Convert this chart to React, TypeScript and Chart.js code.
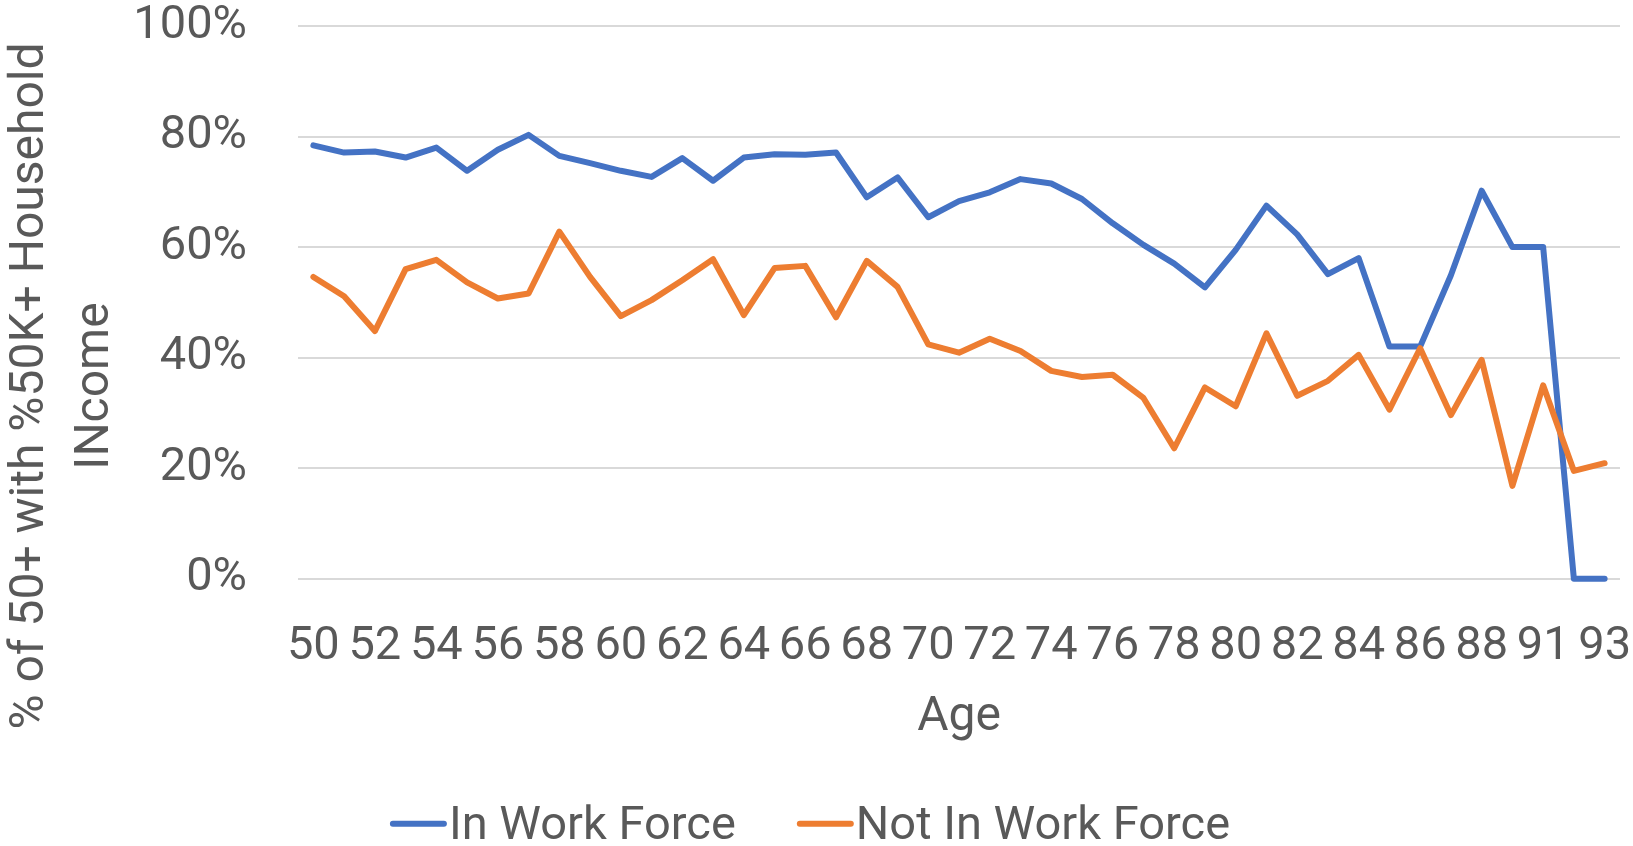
import React, { useEffect, useRef } from "react";
import { Chart, registerables } from "chart.js";

Chart.register(...registerables);

const ages = [
  "50", "51", "52", "53", "54", "55", "56", "57", "58", "59",
  "60", "61", "62", "63", "64", "65", "66", "67", "68", "69",
  "70", "71", "72", "73", "74", "75", "76", "77", "78", "79",
  "80", "81", "82", "83", "84", "85", "86", "87", "88", "89",
  "91", "92", "93",
];

const tickAges = [
  "50", "52", "54", "56", "58", "60", "62", "64", "66", "68", "70",
  "72", "74", "76", "78", "80", "82", "84", "86", "88", "91", "93",
];

const inWorkForce = [
  78.4, 77.1, 77.3, 76.2, 78.0, 73.8, 77.6, 80.3, 76.5, 75.2,
  73.8, 72.7, 76.1, 72.0, 76.2, 76.8, 76.7, 77.1, 69.0, 72.6,
  65.4, 68.3, 69.9, 72.3, 71.5, 68.7, 64.3, 60.4, 57.0, 52.7,
  59.5, 67.5, 62.3, 55.1, 58.0, 42.0, 42.0, 54.9, 70.2, 60.0,
  60.0, 0, 0,
];

const notInWorkForce = [
  54.6, 51.1, 44.8, 56.0, 57.7, 53.6, 50.7, 51.6, 62.8, 54.6,
  47.5, 50.4, 54.0, 57.8, 47.7, 56.2, 56.6, 47.3, 57.5, 52.8,
  42.4, 40.9, 43.4, 41.2, 37.6, 36.5, 36.9, 32.7, 23.6, 34.6,
  31.2, 44.4, 33.1, 35.8, 40.5, 30.6, 41.7, 29.6, 39.6, 16.8,
  35.0, 19.5, 20.9,
];

const seriesNames = ["In Work Force", "Not In Work Force"];
const yTitleLines = ["% of 50+ with %50K+ Household", "INcome"];
const xTitle = "Age";

const BLUE = "#4472C4";
const ORANGE = "#ED7D31";
const TEXT = "#595959";
const GRID = "#D9D9D9";
const FONT = "Roboto";

const decorPlugin = {
  id: "decor",
  afterDraw(chart: any) {
    const ctx: CanvasRenderingContext2D = chart.ctx;
    // Y axis title (two lines, rotated)
    ctx.save();
    ctx.fillStyle = TEXT;
    ctx.font = `48px ${FONT}`;
    ctx.textAlign = "center";
    ctx.textBaseline = "alphabetic";
    ctx.translate(0, 386);
    ctx.rotate(-Math.PI / 2);
    ctx.fillText(yTitleLines[0], 0, 43);
    ctx.fillText(yTitleLines[1], 0, 108);
    ctx.restore();

    // Legend
    ctx.save();
    ctx.font = `47px ${FONT}`;
    ctx.textBaseline = "alphabetic";
    ctx.textAlign = "left";
    const cap = 3;
    const path = 51;
    const gap = 2;
    const itemGap = 61;
    const widths = chart.data.datasets.map((d: any) => ctx.measureText(d.label).width);
    const itemW = (w: number) => cap * 2 + path + gap + w;
    const total = itemW(widths[0]) + itemGap + itemW(widths[1]);
    let x = 810 - total / 2;
    const lineY = 823.7;
    const textY = 838.5;
    chart.data.datasets.forEach((d: any, i: number) => {
      ctx.strokeStyle = d.borderColor;
      ctx.lineWidth = 6;
      ctx.lineCap = "round";
      ctx.beginPath();
      ctx.moveTo(x + cap, lineY);
      ctx.lineTo(x + cap + path, lineY);
      ctx.stroke();
      ctx.fillStyle = TEXT;
      ctx.fillText(d.label, x + cap * 2 + path + gap, textY);
      x += itemW(widths[i]) + itemGap;
    });
    ctx.restore();
  },
};

export default function App() {
  const canvasRef = useRef<HTMLCanvasElement | null>(null);

  useEffect(() => {
    document.body.style.margin = "0";
    const canvas = canvasRef.current;
    if (!canvas) return;
    const chart = new Chart(canvas, {
      type: "line",
      data: {
        labels: ages,
        datasets: [
          {
            label: seriesNames[0],
            data: inWorkForce,
            borderColor: BLUE,
            backgroundColor: BLUE,
            borderWidth: 6,
            pointRadius: 0,
            pointHoverRadius: 0,
            tension: 0,
            borderJoinStyle: "round",
            borderCapStyle: "round",
            clip: false,
            order: 1,
          },
          {
            label: seriesNames[1],
            data: notInWorkForce,
            borderColor: ORANGE,
            backgroundColor: ORANGE,
            borderWidth: 6,
            pointRadius: 0,
            pointHoverRadius: 0,
            tension: 0,
            borderJoinStyle: "round",
            borderCapStyle: "round",
            clip: false,
            order: 0,
          },
        ],
      },
      options: {
        responsive: false,
        animation: false,
        events: [],
        layout: { padding: { top: 26, right: 13, bottom: 104.3, left: 0 } },
        plugins: {
          legend: { display: false },
          tooltip: { enabled: false },
          title: { display: false },
        },
        scales: {
          x: {
            type: "category",
            offset: true,
            border: { display: false },
            grid: {
              display: true,
              drawOnChartArea: false,
              drawTicks: true,
              tickLength: 45,
              color: "rgba(0,0,0,0)",
              tickColor: "rgba(0,0,0,0)",
            },
            ticks: {
              autoSkip: false,
              maxRotation: 0,
              minRotation: 0,
              padding: 0,
              color: TEXT,
              font: { family: FONT, size: 47, lineHeight: 1 },
              callback: (_v: any, i: number) => (tickAges.includes(ages[i]) ? ages[i] : ""),
            },
            title: {
              display: true,
              text: xTitle,
              color: TEXT,
              font: { family: FONT, size: 48, lineHeight: 1 },
              padding: 0,
            },
            afterFit: (scale: any) => {
              scale.height = 163;
            },
          },
          y: {
            min: 0,
            max: 100,
            border: { display: false },
            grid: {
              color: GRID,
              lineWidth: 2,
              drawTicks: true,
              tickLength: 51,
              tickColor: "rgba(0,0,0,0)",
            },
            ticks: {
              stepSize: 20,
              padding: 0,
              color: TEXT,
              font: { family: FONT, size: 47, lineHeight: 1 },
              callback: (v: any) => `${v}%`,
            },
            title: { display: false },
            afterFit: (scale: any) => {
              scale.width = 298;
            },
          },
        },
      },
      plugins: [decorPlugin],
    });
    return () => chart.destroy();
  }, []);

  return (
    <div style={{ position: "fixed", left: 0, top: 0, width: 1633, height: 846, background: "#fff" }}>
      <canvas ref={canvasRef} width={1633} height={846} style={{ display: "block" }} />
    </div>
  );
}
